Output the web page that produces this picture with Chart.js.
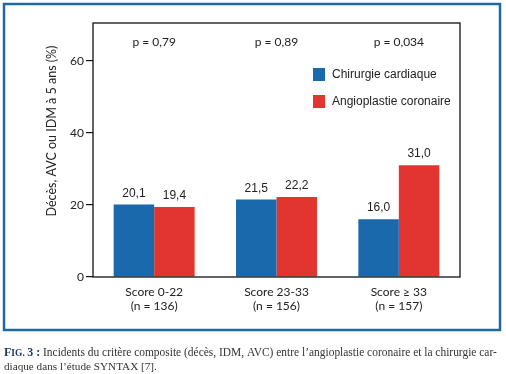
<!DOCTYPE html>
<html>
<head>
<meta charset="utf-8">
<script src="https://cdn.jsdelivr.net/npm/chart.js@4.4.1/dist/chart.umd.min.js"></script>
<style>
  html, body { margin: 0; padding: 0; background: #fff; }
</style>
</head>
<body>
<canvas id="chartSyntax" width="506" height="374"></canvas>
<script>
// Données
const categories = [['Score 0-22', '(n = 136)'], ['Score 23-33', '(n = 156)'], ['Score \u2265 33', '(n = 157)']];
const chirurgie = [20.1, 21.5, 16.0];
const angioplastie = [19.4, 22.2, 31.0];
const pValues = ['p = 0,79', 'p = 0,89', 'p = 0,034'];
const yTicks = [0, 20, 40, 60];
const seriesNames = ['Chirurgie cardiaque', 'Angioplastie coronaire'];
const seriesColors = ['#1b69ad', '#e3352f'];
const yTitle = 'Décès, AVC ou IDM à 5 ans (%)';
const captionLine1 = ' Incidents du critère composite (décès, IDM, AVC) entre l\u2019angioplastie coronaire et la chirurgie car-';
const captionLine2 = 'diaque dans l\u2019étude SYNTAX [7].';

const fmt = v => v.toFixed(1).replace('.', ',');
const SERIF = '"Liberation Serif", "DejaVu Serif", serif';

const decorPlugin = {
    id: 'decor',
    beforeDraw(chart) {
        const c = chart.ctx;
        c.save();
        c.fillStyle = '#fff';
        c.fillRect(0, 0, chart.width, chart.height);
        // cadre bleu
        c.strokeStyle = '#1f68a3';
        c.lineWidth = 2.5;
        c.strokeRect(4, 4, 496, 326);
        c.restore();
    },
    afterDatasetsDraw(chart) {
        const c = chart.ctx;
        const area = chart.chartArea;
        c.save();
        // cadre du graphique
        c.strokeStyle = '#111';
        c.lineWidth = 1.3;
        c.strokeRect(area.left, area.top, area.right - area.left, area.bottom - area.top);

        // valeurs au-dessus des barres
        c.fillStyle = '#222';
        c.font = '12px "Liberation Sans", Arial, sans-serif';
        c.textAlign = 'center';
        c.textBaseline = 'alphabetic';
        chart.data.datasets.forEach((ds, i) => {
            chart.getDatasetMeta(i).data.forEach((bar, j) => {
                c.fillText(fmt(ds.data[j]), bar.x, bar.y - 8);
            });
        });

        // valeurs de p
        c.font = '12px Lato, "Open Sans", sans-serif';
        c.textBaseline = 'middle';
        const xs = chart.scales.x;
        pValues.forEach((p, j) => c.fillText(p, xs.getPixelForValue(j), 42));

        // légende
        c.textAlign = 'left';
        c.font = '12px "Liberation Sans", Arial, sans-serif';
        seriesNames.forEach((name, i) => {
            const y = 75 + i * 27;
            c.fillStyle = seriesColors[i];
            c.fillRect(313, y - 7, 12, 13);
            c.fillStyle = '#222';
            c.fillText(name, 332, y);
        });

        // titre de l'axe y
        c.save();
        c.translate(52, 131);
        c.rotate(-Math.PI / 2);
        c.textAlign = 'center';
        c.font = '12.5px Lato, "Open Sans", sans-serif';
        c.fillStyle = '#222';
        c.fillText(yTitle, 0, 0);
        c.restore();

        // légende de la figure (FIG en petites capitales)
        c.textAlign = 'left';
        c.textBaseline = 'alphabetic';
        c.fillStyle = '#1d3a66';
        c.font = 'bold 12px ' + SERIF;
        c.fillText('F', 4, 356);
        let x = 4 + c.measureText('F').width;
        c.font = 'bold 9.5px ' + SERIF;
        c.fillText('IG.', x, 356);
        x += c.measureText('IG. ').width;
        c.font = 'bold 12px ' + SERIF;
        c.fillText('3 :', x, 356);
        x += c.measureText('3 :').width;
        c.fillStyle = '#333';
        c.font = '11px ' + SERIF;
        const w1 = c.measureText(captionLine1).width;
        const size = 11 * Math.min(1.15, (497 - x) / w1);
        c.font = size.toFixed(2) + 'px ' + SERIF;
        c.fillText(captionLine1, x, 356);
        c.font = '11.2px ' + SERIF;
        c.fillText(captionLine2, 4, 370);
        c.restore();
    }
};

new Chart(document.getElementById('chartSyntax'), {
    type: 'bar',
    data: {
        labels: categories,
        datasets: [
            { label: seriesNames[0], data: chirurgie, backgroundColor: seriesColors[0] },
            { label: seriesNames[1], data: angioplastie, backgroundColor: seriesColors[1] }
        ]
    },
    options: {
        responsive: false,
        animation: false,
        events: [],
        layout: { padding: { left: 0, top: 23, right: 46, bottom: 0 } },
        datasets: { bar: { categoryPercentage: 0.662, barPercentage: 1.0 } },
        plugins: { legend: { display: false }, tooltip: { enabled: false } },
        scales: {
            x: {
                grid: { display: false },
                border: { display: false },
                ticks: { color: '#222', font: { family: 'Lato, "Open Sans", sans-serif', size: 12 }, padding: 0, maxRotation: 0 },
                afterFit(scale) { scale.height = 97; }
            },
            y: {
                min: 0,
                max: 70.5,
                afterBuildTicks(scale) { scale.ticks = yTicks.map(v => ({ value: v })); },
                grid: { drawOnChartArea: false, drawTicks: true, tickLength: 7, color: '#111', lineWidth: 1.2 },
                border: { display: false },
                ticks: { color: '#222', font: { family: 'Lato, "Open Sans", sans-serif', size: 12 }, padding: 2 },
                afterFit(scale) { scale.width = 93; }
            }
        }
    },
    plugins: [decorPlugin]
});
</script>
</body>
</html>
